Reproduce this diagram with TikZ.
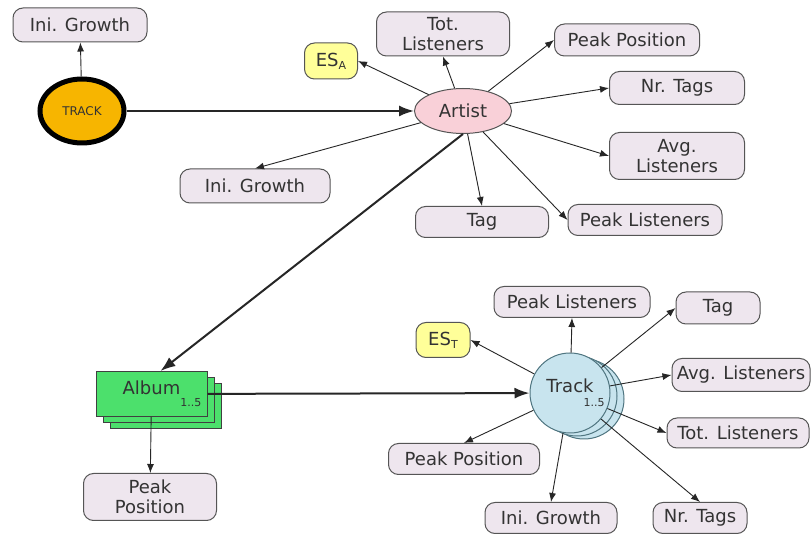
\documentclass[tikz,border=0pt]{standalone}
\usepackage{fontspec}
\setmainfont{DejaVu Sans}
\usetikzlibrary{arrows.meta,shapes.geometric}
\definecolor{boxfill}{HTML}{EEE6EE}
\definecolor{boxline}{HTML}{555555}
\definecolor{esfill}{HTML}{FFFF99}
\definecolor{trackfill}{HTML}{F7B500}
\definecolor{artistfill}{HTML}{F9D0D8}
\definecolor{albumfill}{HTML}{4CE06C}
\definecolor{tfill}{HTML}{C8E4EE}
\definecolor{tline}{HTML}{4F7580}
\definecolor{txt}{HTML}{333333}
\newcommand{\subtxt}[1]{{\fontsize{11}{11}\selectfont #1}}
\begin{document}
\begin{tikzpicture}[x=1pt,y=-1pt,
 attr/.style={draw=boxline, fill=boxfill, rounded corners=10pt, line width=1pt, inner sep=0pt, text=txt, font=\fontsize{18}{20}\selectfont, align=center},
 es/.style={attr, fill=esfill},
 link/.style={draw=black!85, line width=0.9pt, -{Latex[length=9pt,width=7pt]}},
 mainlink/.style={draw=black!85, line width=2pt, -{Latex[length=15pt,width=11pt]}},
 albumbox/.style={draw=black!75, fill=albumfill, line width=1pt, minimum width=111pt, minimum height=45pt, inner sep=0pt, text=black!80, font=\fontsize{18}{20}\selectfont},
 trackcirc/.style={circle, draw=tline, fill=tfill, line width=1pt, minimum size=80pt, inner sep=0pt, text=txt, font=\fontsize{18}{20}\selectfont},
]
\useasboundingbox (0,0) rectangle (812,534);
\fill[white] (0,0) rectangle (812,534);

% TRACK
\node[attr, minimum width=134pt, minimum height=34pt] (ig0) at (80,25) {Ini. Growth};
\node[ellipse, draw=black, line width=5pt, fill=trackfill, minimum width=84pt, minimum height=64pt, inner sep=0pt, text=txt, font=\fontsize{12}{12}\selectfont] (trk) at (82,111) {TRACK};

% Artist
\node[ellipse, draw=boxline, fill=artistfill, line width=1pt, minimum width=97pt, minimum height=45pt, inner sep=0pt, text=txt, font=\fontsize{18}{20}\selectfont] (artist) at (463,111) {Artist};
\node[es, minimum width=53pt, minimum height=36pt] (esA) at (331,61) {ES\subtxt{\raisebox{-3pt}{A}}};
\node[attr, minimum width=133pt, minimum height=44pt] (tlA) at (443,34) {Tot.\\Listeners};
\node[attr, minimum width=145pt, minimum height=32pt] (ppA) at (627,40) {Peak Position};
\node[attr, minimum width=135pt, minimum height=33pt] (ntA) at (677,88) {Nr. Tags};
\node[attr, minimum width=135pt, minimum height=47pt] (alA) at (677,156) {Avg.\\Listeners};
\node[attr, minimum width=154pt, minimum height=31pt] (plA) at (645,220) {Peak Listeners};
\node[attr, minimum width=133pt, minimum height=31pt] (tgA) at (482,222) {Tag};
\node[attr, minimum width=150pt, minimum height=34pt] (igA) at (255,186) {Ini. Growth};

% Album
\node[albumbox] (album3) at (165.5,406) {};
\node[albumbox] (album2) at (158.5,400) {};
\node[albumbox] (album) at (151.5,394) {\raisebox{3pt}{Album}\rlap{\raisebox{-9pt}{\subtxt{1..5}}}};
\node[attr, minimum width=133pt, minimum height=47pt] (ppAl) at (150,497) {Peak\\Position};

% Track
\node[trackcirc] (track3) at (584,399) {};
\node[trackcirc] (track2) at (577,396) {};
\node[trackcirc] (track) at (570,393) {Track\rlap{\hspace{-10pt}\raisebox{-14pt}{\subtxt{1..5}}}};
\node[es, minimum width=54pt, minimum height=35pt] (esT) at (443,340) {ES\subtxt{\raisebox{-3pt}{T}}};
\node[attr, minimum width=156pt, minimum height=31pt] (plT) at (572,302) {Peak Listeners};
\node[attr, minimum width=84pt, minimum height=32pt] (tgT) at (718,308) {Tag};
\node[attr, minimum width=138pt, minimum height=33pt] (alT) at (741,375) {Avg. Listeners};
\node[attr, minimum width=142pt, minimum height=30pt] (tlT) at (738,433) {Tot. Listeners};
\node[attr, minimum width=151pt, minimum height=31pt] (ppT) at (464,459) {Peak Position};
\node[attr, minimum width=132pt, minimum height=31pt] (igT) at (551,518) {Ini. Growth};
\node[attr, minimum width=94pt, minimum height=31pt] (ntT) at (700,518) {Nr. Tags};

% connectors
\draw[link] (trk) -- (ig0);
\draw[mainlink] (trk) -- (artist);

\draw[link] (artist) -- (esA.east);
\draw[link] (artist) -- (tlA.south);
\draw[link] (artist) -- (ppA.west);
\draw[link] (artist) -- (ntA.west);
\draw[link] (artist) -- (alA.west);
\draw[link] (artist) -- (plA.west);
\draw[link] (artist) -- (tgA.north);
\draw[link] (artist) -- (igA.north);
\draw[mainlink] (artist.south) -- ([xshift=9pt]album.north);

\draw[link] (album) -- (ppAl);
\draw[mainlink] (album) -- (track);

\draw[link] (track) -- (esT.east);
\draw[link] (track) -- (plT.south);
\draw[link] (track) -- (tgT.west);
\draw[link] (track) -- (alT.west);
\draw[link] (track) -- (tlT.west);
\draw[link] (track) -- (ppT.north);
\draw[link] (track) -- (igT.north);
\draw[link] (track) -- (ntT.north);
\end{tikzpicture}
\end{document}
